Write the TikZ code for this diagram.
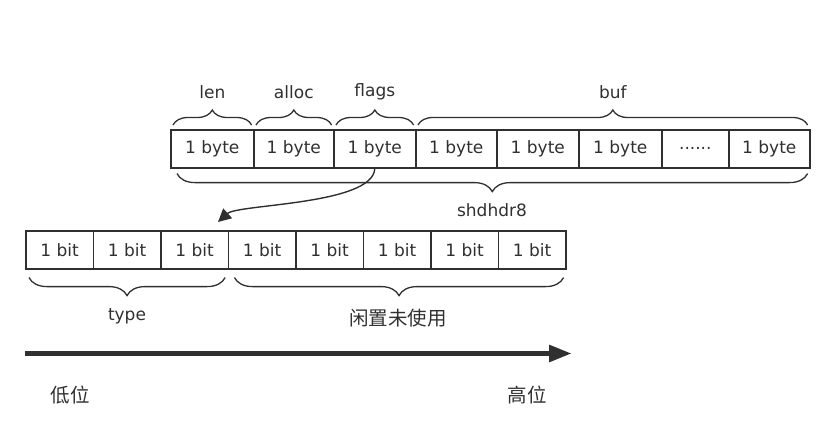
\documentclass[tikz,border=0pt]{standalone}
\usepackage{fontspec}
\setmainfont{DejaVu Sans}
\newfontfamily\cjk{Noto Sans CJK SC}
\usetikzlibrary{decorations.pathreplacing,arrows.meta}
\definecolor{ink}{HTML}{303030}
\begin{document}
\begin{tikzpicture}[x=1pt,y=-1pt,
  cell/.style={draw=ink, line width=1.6pt, minimum height=38pt, inner sep=0pt, anchor=north west, text=ink, font=\fontsize{17}{20}\selectfont},
  lbl/.style={text=ink, inner sep=0pt, font=\fontsize{17}{20}\selectfont},
  cjklbl/.style={text=ink, inner sep=0pt, font=\cjk\fontsize{19.5}{22}\selectfont},
  bracetop/.style={draw=ink, line width=1.3pt, decorate, decoration={brace, amplitude=15pt}},
  bracebot/.style={draw=ink, line width=1.3pt, decorate, decoration={brace, mirror, amplitude=18pt}}]
\useasboundingbox (0,0) rectangle (834,436);
% byte row
\foreach \n/\x/\w/\t in {b1/170/83/1 byte, b2/253/80/1 byte, b3/333/82/1 byte, b4/415/81/1 byte, b5/496/82/1 byte, b6/578/83/1 byte, b7/661/67/{......}, b8/728/81/1 byte}
  \node[cell, minimum width=\w pt] (\n) at (\x,129) {\t};
% bit row
\foreach \n/\x in {t1/25, t2/92.5, t3/160, t4/227.5, t5/295, t6/362.5, t7/430, t8/497.5}
  \node[cell, minimum width=67.5pt] (\n) at (\x,230) {1 bit};
% top braces
\draw[bracetop] ([xshift=3pt,yshift=4pt]b1.north west) -- ([xshift=-3pt,yshift=4pt]b1.north east) node[midway, lbl, yshift=33pt] (len) {len};
\draw[bracetop] ([xshift=3pt,yshift=4pt]b2.north west) -- ([xshift=-3pt,yshift=4pt]b2.north east) node[midway, lbl, yshift=33pt] (alloc) {alloc};
\draw[bracetop] ([xshift=3pt,yshift=4pt]b3.north west) -- ([xshift=-3pt,yshift=4pt]b3.north east) node[midway, lbl, yshift=33pt] (flags) {flags};
\draw[bracetop] ([xshift=3pt,yshift=4pt]b4.north west) -- ([xshift=-3pt,yshift=4pt]b8.north east) node[pos=0.5, lbl, yshift=33pt] (buf) {buf};
% bottom brace of header
\draw[bracebot] ([xshift=7pt,yshift=-5pt]b1.south west) -- ([xshift=-3pt,yshift=-5pt]b8.south east);
\node[lbl] (hdr) at (492,210) {shdhdr8};
% bit braces
\draw[bracebot] ([xshift=4pt,yshift=-8pt]t1.south west) -- ([xshift=-4pt,yshift=-8pt]t3.south east);
\draw[bracebot] ([xshift=7pt,yshift=-8pt]t4.south west) -- ([xshift=-3pt,yshift=-8pt]t8.south east);
\node[lbl] (type) at (127,316) {type};
\node[cjklbl] (idle) at (398,318) {闲置未使用};
% curved connector
\coordinate (tip) at (218,222);
\draw[draw=ink, line width=1.4pt, -{Triangle[length=13pt,width=13pt]}] (b3.south) .. controls (373,205) and (238,204) .. (tip);
% direction arrow
\coordinate (lo) at (25,353.5);
\coordinate (hi) at (572,353.5);
\draw[draw=ink, line width=5.5pt, -{Triangle[length=23pt,width=16pt]}] (lo) -- (hi);
\node[cjklbl] (low) at (70,395) {低位};
\node[cjklbl] (high) at (527,395) {高位};
\end{tikzpicture}
\end{document}
